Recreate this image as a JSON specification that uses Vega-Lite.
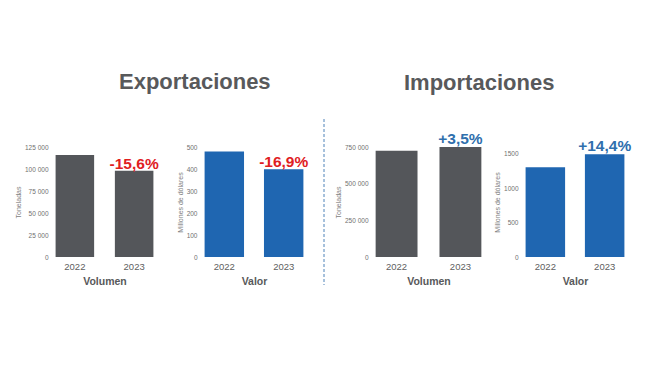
{
  "$schema": "https://vega.github.io/schema/vega-lite/v6.json",
  "padding": {"left": 14, "top": 70, "right": 5, "bottom": 5},
  "datasets": {
    "comercio": [
      {"flujo": "Exportaciones", "medida": "Volumen", "anio": "2022", "valor": 116000, "cambio": ""},
      {"flujo": "Exportaciones", "medida": "Volumen", "anio": "2023", "valor": 97900, "cambio": "-15,6%"},
      {"flujo": "Exportaciones", "medida": "Valor", "anio": "2022", "valor": 480, "cambio": ""},
      {"flujo": "Exportaciones", "medida": "Valor", "anio": "2023", "valor": 399, "cambio": "-16,9%"},
      {"flujo": "Importaciones", "medida": "Volumen", "anio": "2022", "valor": 725000, "cambio": ""},
      {"flujo": "Importaciones", "medida": "Volumen", "anio": "2023", "valor": 750400, "cambio": "+3,5%"},
      {"flujo": "Importaciones", "medida": "Valor", "anio": "2022", "valor": 1307, "cambio": ""},
      {"flujo": "Importaciones", "medida": "Valor", "anio": "2023", "valor": 1495, "cambio": "+14,4%"}
    ]
  },
  "bounds": "flush",
  "center": true,
  "spacing": 20,
  "hconcat": [
    {
      "title": {"text": "Exportaciones", "dx": 64, "offset": 47},
      "width": 129, "height": 110,
      "data": {"name": "comercio"},
      "transform": [{"filter": "datum.flujo == 'Exportaciones' && datum.medida == 'Volumen'"}],
      "encoding": {
        "x": {"field": "anio", "type": "nominal", "scale": {"range": [0, 99], "paddingInner": 0.35, "paddingOuter": 0.01},
              "axis": {"title": "Volumen"}},
        "y": {"field": "valor", "type": "quantitative", "scale": {"domain": [0, 125000]},
              "axis": {"title": "Toneladas", "values": [0, 25000, 50000, 75000, 100000, 125000],
                       "labelExpr": "replace(format(datum.value, ','), ',', ' ')"}}
      },
      "layer": [
        {"mark": {"type": "bar", "color": "#54565a"}},
        {"mark": {"type": "text", "baseline": "alphabetic", "dy": -2, "fontSize": 15.5, "fontWeight": "bold", "color": "#e0201f"},
         "encoding": {"text": {"field": "cambio"}}}
      ]
    },
    {
      "width": 100, "height": 110,
      "data": {"name": "comercio"},
      "transform": [{"filter": "datum.flujo == 'Exportaciones' && datum.medida == 'Valor'"}],
      "encoding": {
        "x": {"field": "anio", "type": "nominal", "scale": {"range": [0, 100], "paddingInner": 0.336, "paddingOuter": 0.01},
              "axis": {"title": "Valor"}},
        "y": {"field": "valor", "type": "quantitative", "scale": {"domain": [0, 500]},
              "axis": {"title": "Millones de dólares", "values": [0, 100, 200, 300, 400, 500]}}
      },
      "layer": [
        {"mark": {"type": "bar", "color": "#1f66b1"}},
        {"mark": {"type": "text", "baseline": "alphabetic", "dy": -2, "fontSize": 15.5, "fontWeight": "bold", "color": "#e0201f"},
         "encoding": {"text": {"field": "cambio"}}}
      ]
    },
    {
      "width": 31, "height": 166,
      "data": {"values": [{"separador": "Exportaciones | Importaciones"}]},
      "mark": {"type": "rule", "color": "#4f82b8", "strokeDash": [3, 2], "strokeWidth": 1},
      "encoding": {
        "x": {"datum": 0, "type": "quantitative", "scale": {"domain": [0, 1]}, "axis": null}
      }
    },
    {
      "title": {"text": "Importaciones", "dx": 29, "offset": 37},
      "width": 130, "height": 110,
      "data": {"name": "comercio"},
      "transform": [{"filter": "datum.flujo == 'Importaciones' && datum.medida == 'Volumen'"}],
      "encoding": {
        "x": {"field": "anio", "type": "nominal", "scale": {"range": [0, 107], "paddingInner": 0.344, "paddingOuter": 0.01},
              "axis": {"title": "Volumen"}},
        "y": {"field": "valor", "type": "quantitative", "scale": {"domain": [0, 750000]},
              "axis": {"title": "Toneladas", "values": [0, 250000, 500000, 750000],
                       "labelExpr": "replace(format(datum.value, ','), ',', ' ')"}}
      },
      "layer": [
        {"mark": {"type": "bar", "color": "#54565a"}},
        {"mark": {"type": "text", "baseline": "alphabetic", "dy": -3, "fontSize": 15.5, "fontWeight": "bold", "color": "#2f6fad"},
         "encoding": {"text": {"field": "cambio"}}}
      ]
    },
    {
      "width": 100, "height": 110,
      "data": {"name": "comercio"},
      "transform": [{"filter": "datum.flujo == 'Importaciones' && datum.medida == 'Valor'"}],
      "encoding": {
        "x": {"field": "anio", "type": "nominal", "scale": {"range": [0, 100], "paddingInner": 0.334, "paddingOuter": 0.01},
              "axis": {"title": "Valor"}},
        "y": {"field": "valor", "type": "quantitative", "scale": {"domain": [0, 1600]},
              "axis": {"title": "Millones de dólares", "values": [0, 500, 1000, 1500], "format": "d"}}
      },
      "layer": [
        {"mark": {"type": "bar", "color": "#1f66b1"}},
        {"mark": {"type": "text", "baseline": "alphabetic", "dy": -3, "fontSize": 15.5, "fontWeight": "bold", "color": "#2f6fad"},
         "encoding": {"text": {"field": "cambio"}}}
      ]
    }
  ],
  "config": {
    "font": "Liberation Sans",
    "view": {"stroke": null},
    "title": {"fontSize": 22, "fontWeight": "bold", "color": "#58595b", "anchor": "start", "frame": "group"},
    "axis": {"ticks": false, "domain": false, "grid": false, "labelColor": "#606060", "titleColor": "#606060"},
    "axisX": {"labelAngle": 0, "labelFontSize": 9.5, "labelPadding": 4, "titleFontSize": 10.5, "titleFontWeight": "bold", "titlePadding": 6, "titleColor": "#58595b"},
    "axisY": {"labelFontSize": 6.5, "labelPadding": 7, "titleFontSize": 7, "titleFontWeight": "normal", "titlePadding": 3, "titleColor": "#808080", "labelColor": "#707070"}
  }
}
